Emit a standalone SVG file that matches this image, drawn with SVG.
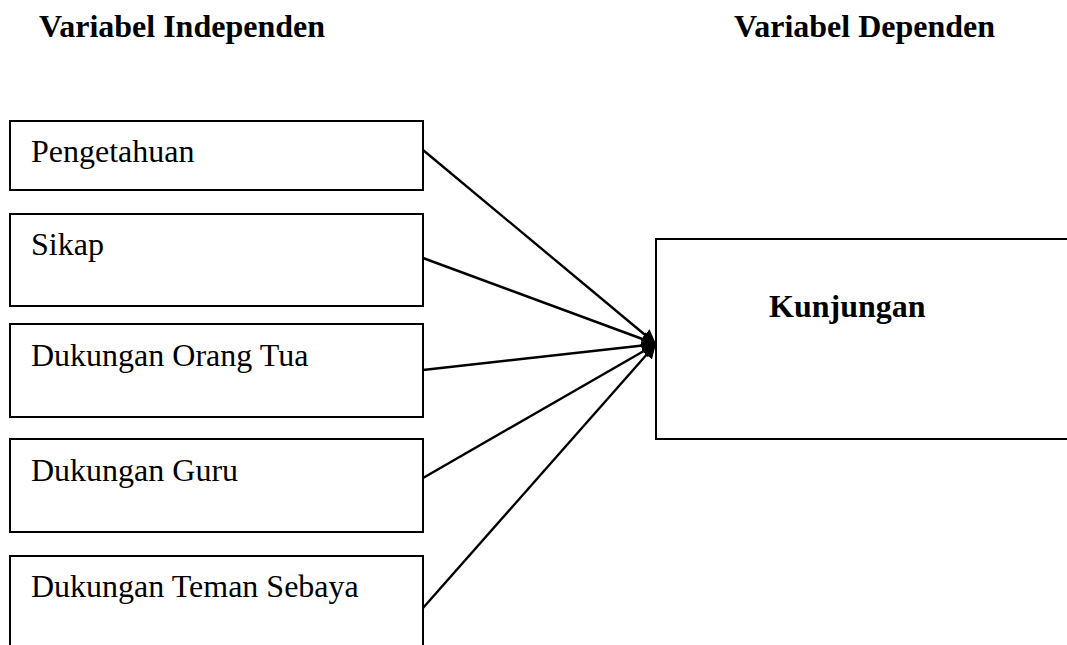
<svg xmlns="http://www.w3.org/2000/svg" width="1067" height="645" viewBox="0 0 1067 645">
<style>
.box{fill:#fff;stroke:#000;stroke-width:2}
.t{font-family:"Liberation Serif","Times New Roman",serif;font-size:32px;fill:#000}
.b{font-weight:bold}
.c{stroke:#000;stroke-width:2.4;fill:none;marker-end:url(#ah)}
</style>
<defs>
<marker id="ah" viewBox="0 0 10 10" refX="10" refY="5" markerWidth="6" markerHeight="6" markerUnits="strokeWidth" orient="auto">
<path d="M0,0 L10,5 L0,10 z" fill="#000"/>
</marker>
</defs>
<g id="headers">
<text class="t b" x="39" y="37">Variabel Independen</text>
<text class="t b" x="734" y="37">Variabel Dependen</text>
</g>
<g id="n1"><rect class="box" x="10" y="121" width="413" height="69"/><text class="t" x="31" y="162">Pengetahuan</text></g>
<g id="n2"><rect class="box" x="10" y="214" width="413" height="92"/><text class="t" x="31" y="255">Sikap</text></g>
<g id="n3"><rect class="box" x="10" y="324" width="413" height="93"/><text class="t" x="31" y="366">Dukungan Orang Tua</text></g>
<g id="n4"><rect class="box" x="10" y="439" width="413" height="93"/><text class="t" x="31" y="481">Dukungan Guru</text></g>
<g id="n5"><rect class="box" x="10" y="556" width="413" height="100"/><text class="t" x="31" y="597">Dukungan Teman Sebaya</text></g>
<g id="n6"><rect class="box" x="656" y="239" width="420" height="200"/><text class="t b" x="769" y="317">Kunjungan</text></g>
<g id="connectors">
<line class="c" x1="423" y1="150" x2="656" y2="344"/>
<line class="c" x1="423" y1="258" x2="656" y2="344"/>
<line class="c" x1="423" y1="370" x2="656" y2="344"/>
<line class="c" x1="423" y1="478" x2="656" y2="344"/>
<line class="c" x1="423" y1="608" x2="656" y2="344"/>
</g>
</svg>
